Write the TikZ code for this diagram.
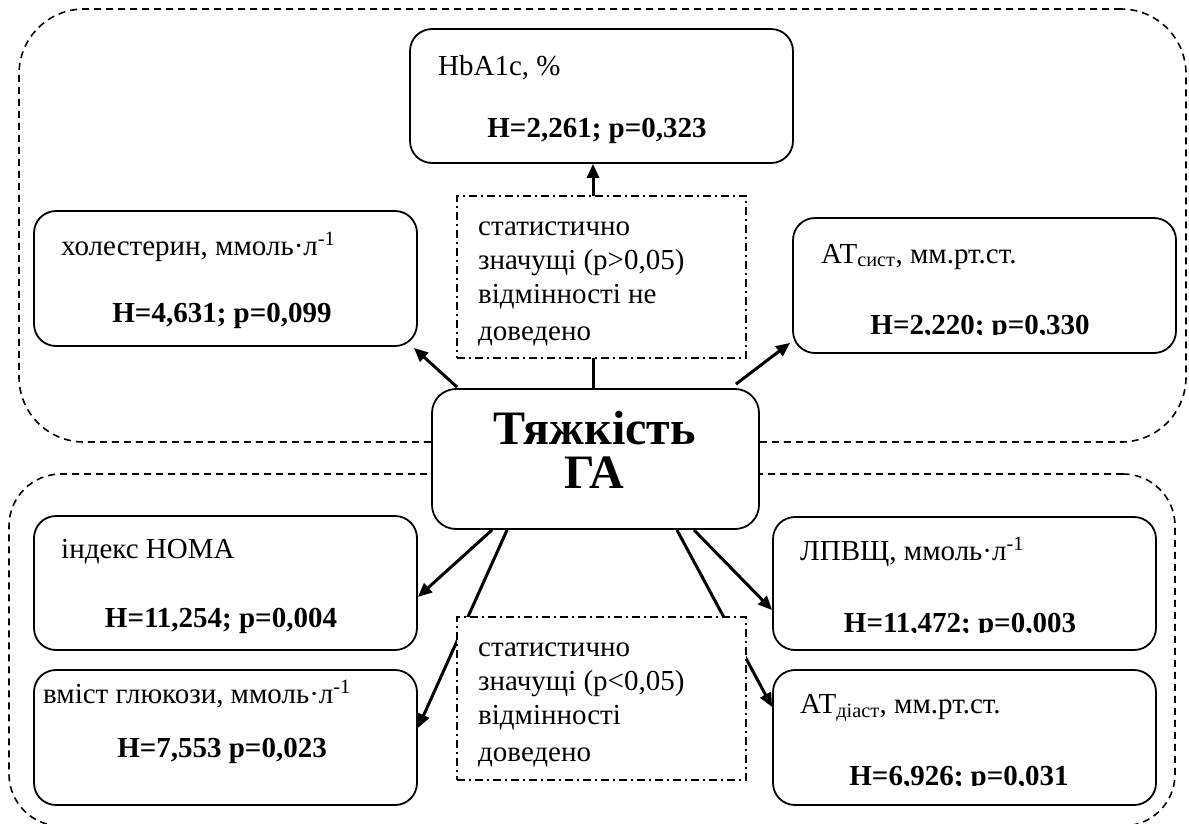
\documentclass[tikz,border=0pt]{standalone}
\usepackage{fontspec}
\setmainfont{Liberation Serif}
\usetikzlibrary{arrows.meta}
\begin{document}
\begin{tikzpicture}[x=1pt,y=-1pt,
  rbox/.style={draw, line width=1.8pt, rounded corners=22pt, fill=white, inner sep=0pt},
  grp/.style={draw, line width=1.6pt, dash pattern=on 7pt off 5pt, inner sep=0pt},
  ddbox/.style={draw, line width=1.2pt, dash pattern=on 8pt off 4pt on 2pt off 4pt, fill=white, inner sep=0pt},
  lbl/.style={font=\fontsize{29}{34}\selectfont, inner sep=0pt, anchor=base west},
  num/.style={font=\fontsize{29}{34}\selectfont\bfseries, inner sep=0pt, anchor=base},
  big/.style={font=\fontsize{48}{45}\selectfont\bfseries, inner sep=0pt, anchor=base},
  arr/.style={line width=3pt, -{Triangle[length=14pt,width=12pt]}},
]
\useasboundingbox (0,0) rectangle (1189,823);

% group frames
\node[grp, rounded corners=65pt, minimum width=1167pt, minimum height=433pt] (grpT) at (602.5,225.5) {};
\node[grp, rounded corners=52pt, minimum width=1166pt, minimum height=352pt] (grpB) at (592,650) {};

% boxes
\node[rbox, minimum width=383pt, minimum height=134pt] (hba) at (601.5,96) {};
\node[rbox, minimum width=383pt, minimum height=135pt] (chol) at (225.5,278.5) {};
\node[rbox, minimum width=383pt, minimum height=135pt] (ats) at (984.5,285.5) {};
\node[rbox, minimum width=383pt, minimum height=134pt] (homa) at (225.5,583) {};
\node[rbox, minimum width=383pt, minimum height=135pt] (gluc) at (225.5,737.5) {};
\node[rbox, minimum width=383pt, minimum height=133pt] (lpv) at (964.5,583.5) {};
\node[rbox, minimum width=383pt, minimum height=135pt] (atd) at (964.5,737.5) {};
\node[rbox, rounded corners=24pt, minimum width=327pt, minimum height=140pt] (c) at (595.5,459) {};

% arrows
\draw[arr] ([xshift=-2.5pt]c.north) -- ([xshift=-2.5pt]c.north |- hba.south);
\draw[arr] ([xshift=26pt,yshift=1pt]c.north west) -- ([xshift=-4pt,yshift=-1pt]chol.south east);
\draw[arr] ([xshift=-24pt,yshift=4pt]c.north east) -- ([xshift=-2pt,yshift=11pt]ats.south west);
\draw[arr] ([xshift=61pt]c.south west) -- ([yshift=-14pt]homa.east);
\draw[arr] ([xshift=76pt]c.south west) -- ([yshift=9.5pt]gluc.east);
\draw[arr] ([xshift=-66pt]c.south east) -- ([yshift=-26.5pt]lpv.west);
\draw[arr] ([xshift=-83pt]c.south east) -- ([yshift=30.5pt]atd.west);

% dash-dot notes
\node[ddbox, minimum width=289pt, minimum height=162pt] (nd1) at (601.5,277) {};
\node[ddbox, minimum width=289pt, minimum height=163pt] (nd2) at (601.5,698.5) {};

\node[lbl] (nd1a) at (478,235) {статистично};
\node[lbl] (nd1b) at (478,269) {значущі (p>0,05)};
\node[lbl] (nd1c) at (478,303) {відмінності не};
\node[lbl] (nd1d) at (478,340) {доведено};
\node[lbl] (nd2a) at (478,656) {статистично};
\node[lbl] (nd2b) at (478,690) {значущі (p<0,05)};
\node[lbl] (nd2c) at (478,724) {відмінності};
\node[lbl] (nd2d) at (478,761) {доведено};

% centre text
\node[big] (cA) at (594.5,444) {Тяжкість};
\node[big] (cB) at (594.5,488) {ГА};

% box texts
\node[lbl] (hbaA) at (438,75) {HbA1c, \%};
\node[num] (hbaB) at (597,137) {H=2,261; p=0,323};
\node[lbl] (cholA) at (61,255) {холестерин, ммоль·л\textsuperscript{-1}};
\node[num] (cholB) at (222,322) {H=4,631; p=0,099};
\node[lbl] (atsA) at (821,263) {АТ\textsubscript{сист}, мм.рт.ст.};
\node[lbl] (homaA) at (61,558) {індекс HOMA};
\node[num] (homaB) at (221,627) {H=11,254; p=0,004};
\node[lbl] (glucA) at (43,703) {вміст глюкози, ммоль·л\textsuperscript{-1}};
\node[num] (glucB) at (222,757) {H=7,553 p=0,023};
\node[lbl] (lpvA) at (800,560) {ЛПВЩ, ммоль·л\textsuperscript{-1}};
\node[lbl] (atdA) at (800,713) {АТ\textsubscript{діаст}, мм.рт.ст.};

\begin{scope}
\clip (800,290) rectangle (1170,334.8);
\node[num] (atsB) at (980,334) {H=2,220; p=0,330};
\end{scope}
\begin{scope}
\clip (780,590) rectangle (1150,632.8);
\node[num] (lpvB) at (960,632) {H=11,472; p=0,003};
\end{scope}
\begin{scope}
\clip (780,740) rectangle (1150,785.8);
\node[num] (atdB) at (959,785) {H=6,926; p=0,031};
\end{scope}
\end{tikzpicture}
\end{document}
